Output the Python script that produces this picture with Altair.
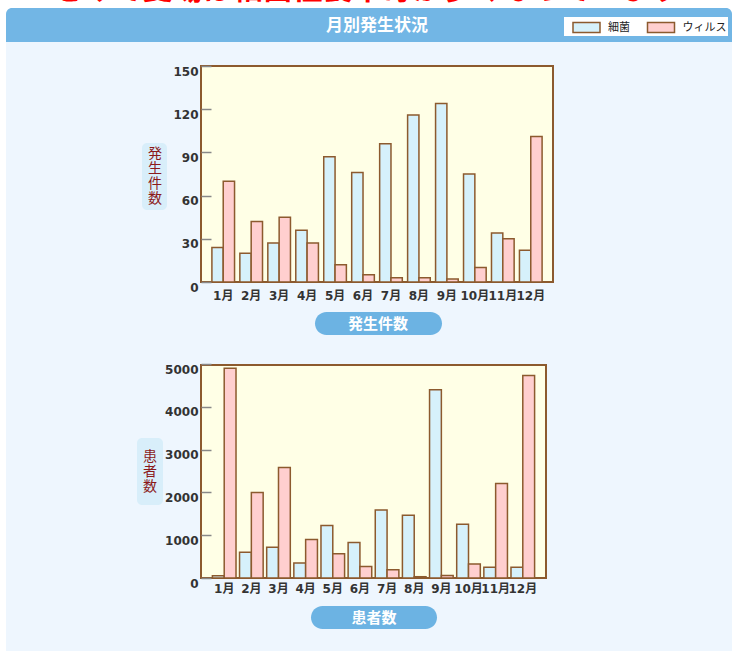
import altair as alt
import pandas as pd

months = ["1月", "2月", "3月", "4月", "5月", "6月", "7月", "8月", "9月", "10月", "11月", "12月"]
series = ["細菌", "ウィルス"]
bacteria_cases = [24, 20, 27, 36, 87, 76, 96, 116, 124, 75, 34, 22]
virus_cases = [70, 42, 45, 27, 12, 5, 3, 3, 2, 10, 30, 101]
bacteria_patients = [50, 600, 720, 350, 1225, 830, 1590, 1465, 4400, 1255, 250, 250]
virus_patients = [4900, 2000, 2580, 900, 565, 270, 195, 30, 60, 325, 2210, 4730]
case_ticks = [0, 30, 60, 90, 120, 150]
patient_ticks = [0, 1000, 2000, 3000, 4000, 5000]

rows = []
for i, m in enumerate(months):
    rows.append({"month": m, "series": series[0], "cases": bacteria_cases[i], "patients": bacteria_patients[i]})
    rows.append({"month": m, "series": series[1], "cases": virus_cases[i], "patients": virus_patients[i]})
df = pd.DataFrame(rows)
one = pd.DataFrame({"k": [0]})

CJK = "Noto Sans CJK JP"
NUM = "DejaVu Sans, Noto Sans CJK JP"
BROWN = "#8c5a2e"
BLUE = "#72b6e5"


def rect(x, x2, y, y2, **kw):
    return alt.Chart(one).mark_rect(**kw).encode(
        x=alt.value(x), x2=alt.value(x2), y=alt.value(y), y2=alt.value(y2))


def label(text, x, y, **kw):
    kw.setdefault("font", CJK)
    return alt.Chart(one).mark_text(**kw).encode(
        x=alt.value(x), y=alt.value(y), text=alt.value(text))


legend = alt.Legend(
    orient="none", legendX=575.5, legendY=16.5, direction="horizontal", title=None,
    padding=0, symbolType="M-1.35,-0.5H1.35V0.5H-1.35Z", symbolSize=400,
    symbolStrokeColor=BROWN, symbolStrokeWidth=1.5, symbolOpacity=1,
    labelOffset=10.5, columnPadding=13.5, labelFont=CJK, labelFontSize=11,
    labelColor="#222")

fill = alt.Fill("series:N", scale=alt.Scale(domain=series, range=["#d6f1fb", "#ffcfcf"]),
                legend=legend)
xoff = alt.XOffset("series:N", scale=alt.Scale(domain=series))


def yaxis(vals):
    return alt.Axis(orient="left", offset=-211, tickSize=10, tickColor="#888", tickWidth=1.5,
                    domain=False, grid=False, values=vals, format="d", labelPadding=3,
                    labelOffset=5, labelFont=NUM, labelFontSize=12, labelFontWeight="bold",
                    labelColor="#333", title=None, zindex=1)


def xaxis(offset, pad):
    return alt.Axis(orient="bottom", offset=offset, ticks=False, tickSize=0, domain=False,
                    labelPadding=pad, labelAngle=0, labelOverlap=False, labelFont=NUM,
                    labelFontSize=12, labelFontWeight="bold", labelColor="#333",
                    title=None, zindex=1)


top_bars = alt.Chart(df).mark_bar(stroke=BROWN, strokeWidth=1.5).encode(
    x=alt.X("month:N", sort=months,
            scale=alt.Scale(domain=months, range=[201, 553], paddingInner=0.19, paddingOuter=0.39),
            axis=xaxis(282 - 651, 8)),
    xOffset=xoff,
    y=alt.Y("cases:Q", scale=alt.Scale(domain=[0, 150], range=[282, 66], nice=False),
            axis=yaxis(case_ticks)),
    fill=fill,
)

bottom_bars = alt.Chart(df).mark_bar(stroke=BROWN, strokeWidth=1.5).encode(
    x=alt.X("month:N", sort=months,
            scale=alt.Scale(domain=months, range=[201, 546], paddingInner=0.13, paddingOuter=0.42),
            axis=xaxis(578 - 651, 5)),
    xOffset=xoff,
    y=alt.Y("patients:Q", scale=alt.Scale(domain=[0, 5000], range=[578, 364], nice=False),
            axis=yaxis(patient_ticks)),
    fill=fill,
)

layers = [
    rect(6, 732, 42, 651, fill="#eef6fe"),
    rect(6, 732, 8, 42, fill=BLUE, cornerRadiusTopLeft=6, cornerRadiusTopRight=6),
    label("をみて夏場は細菌性食中毒が多くなっています", 367, -1, fontSize=30, fontWeight="bold",
          color="#ff0000", baseline="alphabetic", align="center"),
    label("月別発生状況", 377, 26, fontSize=17, fontWeight="bold", color="white",
          align="center", baseline="middle"),
    rect(564, 728, 17, 36, fill="white"),
    rect(201, 553, 66, 282, fill="#ffffe6", stroke=BROWN, strokeWidth=2),
    rect(201, 546, 365, 578, fill="#ffffe6", stroke=BROWN, strokeWidth=2),
    top_bars,
    bottom_bars,
    rect(142, 167, 143, 210, fill="#d8eefa", cornerRadius=5),
    label("発\n生\n件\n数", 155, 154, lineBreak="\n", lineHeight=15, fontSize=14,
          color="#8b1a1a", align="center", baseline="middle"),
    rect(137, 163, 438, 505, fill="#d8eefa", cornerRadius=5),
    label("患\n者\n数", 150, 457, lineBreak="\n", lineHeight=15, fontSize=14,
          color="#8b1a1a", align="center", baseline="middle"),
    rect(315, 442, 312, 335, fill="#6cb3e3", cornerRadius=11.5),
    label("発生件数", 378, 323.5, fontSize=15, fontWeight="bold", color="white",
          align="center", baseline="middle"),
    rect(311, 437, 606, 629, fill="#6cb3e3", cornerRadius=11.5),
    label("患者数", 374, 617.5, fontSize=15, fontWeight="bold", color="white",
          align="center", baseline="middle"),
]

chart = alt.layer(*layers).properties(
    width=738, height=651, padding=0,
    autosize=alt.AutoSizeParams(type="none"), background="white",
).resolve_scale(x="independent", y="independent", xOffset="independent").configure_view(stroke=None)

chart.save("out.html", embed_options={"renderer": "svg", "actions": False})
